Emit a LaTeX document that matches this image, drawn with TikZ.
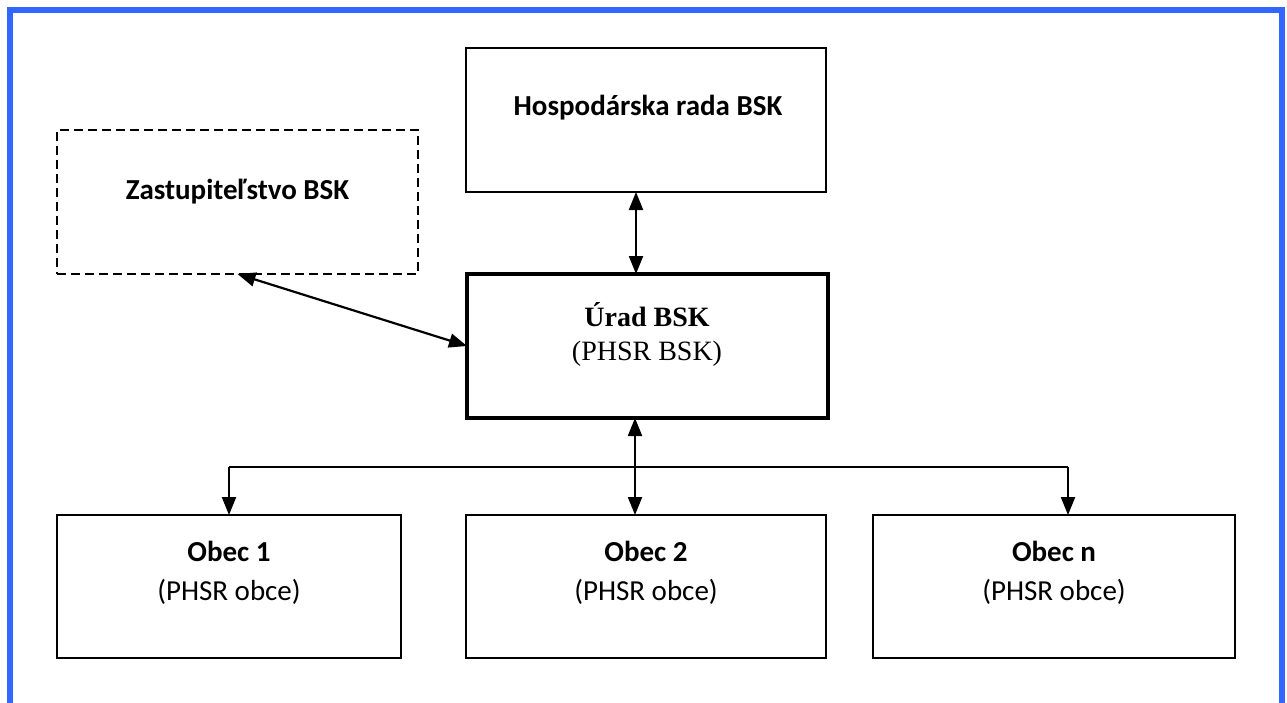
\documentclass[tikz,border=0pt]{standalone}
\usepackage{fontspec}
\setmainfont{Carlito}
\newfontfamily\serifc{Liberation Serif}
\usetikzlibrary{arrows.meta}
\definecolor{frameblue}{RGB}{51,102,255}
\tikzset{
  box/.style={draw=black, line width=1.6pt, inner sep=0pt, outer sep=0pt},
  dashbox/.style={box, dash pattern=on 9pt off 5pt},
  thickbox/.style={box, line width=4pt},
  lbl/.style={inner sep=0pt, font=\fontsize{29}{34}\selectfont},
  conn/.style={line width=2.2pt},
  dbl/.style={conn, {Triangle[length=18pt,width=14pt]}-{Triangle[length=18pt,width=14pt]}},
  sgl/.style={conn, -{Triangle[length=18pt,width=14pt]}},
  bus/.style={line width=1.6pt}
}
\begin{document}
\begin{tikzpicture}[x=1pt,y=-1pt]
\useasboundingbox (0,0) rectangle (1287,702);
\begin{scope}
\clip (0,0) rectangle (1287,702);
\draw[frameblue, line width=6pt] (10,10) rectangle (1282,760);
\end{scope}
% boxes
\node[dashbox, minimum width=361pt, minimum height=144pt] (z) at (237.5,202) {};
\node[box, minimum width=360pt, minimum height=144pt] (h) at (646,120) {};
\node[thickbox, minimum width=361pt, minimum height=144pt] (u) at (647.5,346) {};
\node[box, minimum width=344pt, minimum height=143pt] (o1) at (229,586.5) {};
\node[box, minimum width=360pt, minimum height=143pt] (o2) at (646,586.5) {};
\node[box, minimum width=362pt, minimum height=143pt] (on) at (1054,586.5) {};
% labels
\node[lbl, font=\bfseries\fontsize{29}{34}\selectfont] (zt) at (237.5,192) {Zastupiteľstvo BSK};
\node[lbl, font=\bfseries\fontsize{29}{34}\selectfont] (ht) at (648,108) {Hospodárska rada BSK};
\node[lbl, font=\serifc\bfseries\fontsize{28}{34}\selectfont] (ut1) at (647,315) {Úrad BSK};
\node[lbl, font=\serifc\fontsize{28}{34}\selectfont] (ut2) at (647,354) {(PHSR BSK)};
\node[lbl, font=\bfseries\fontsize{29}{34}\selectfont] (o1t) at (229,551) {Obec 1};
\node[lbl] (o1s) at (229,592) {(PHSR obce)};
\node[lbl, font=\bfseries\fontsize{29}{34}\selectfont] (o2t) at (646,551) {Obec 2};
\node[lbl] (o2s) at (646,592) {(PHSR obce)};
\node[lbl, font=\bfseries\fontsize{29}{34}\selectfont] (ont) at (1054,551) {Obec n};
\node[lbl] (ons) at (1054,592) {(PHSR obce)};
% connectors
\coordinate (hx) at (636,0);
\coordinate (cx) at (635,0);
\coordinate (bl) at (229,467);
\coordinate (br) at (1068,467);
\draw[dbl] (h.south -| hx) -- (u.north -| hx);
\draw[dbl] (z.south) -- (u.west);
\draw[dbl] (o2.north -| cx) -- (u.south -| cx);
\draw[bus] (bl) -- (br);
\draw[sgl] (bl) -- (bl |- o1.north);
\draw[sgl] (br) -- (br |- on.north);
\end{tikzpicture}
\end{document}
